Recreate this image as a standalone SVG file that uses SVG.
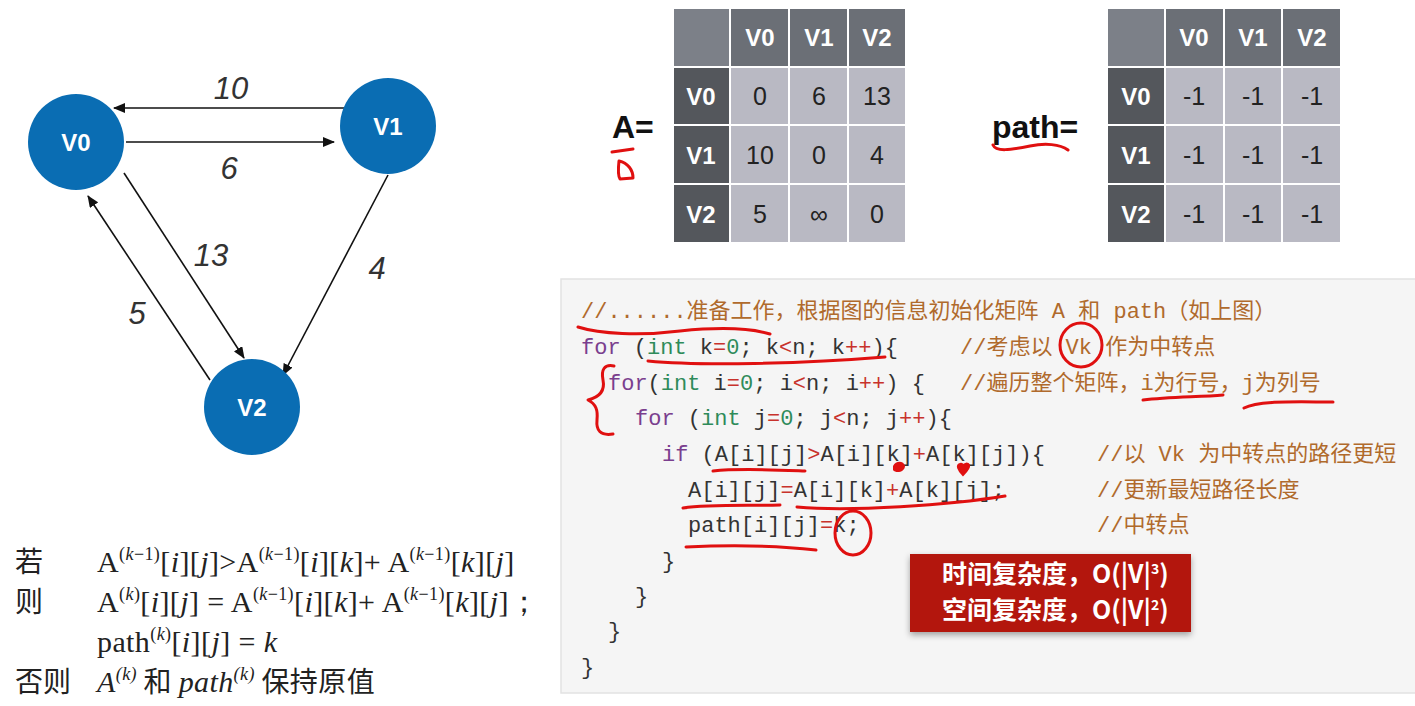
<svg xmlns="http://www.w3.org/2000/svg" width="1415" height="706" viewBox="0 0 1415 706">
<style>
.node{fill:#0a6db3}
.nl{font-family:"Liberation Sans",Arial,sans-serif;font-weight:bold;font-size:24px;fill:#fff;text-anchor:middle}
.el{font-family:"Liberation Sans",Arial,sans-serif;font-style:italic;font-size:31px;fill:#333;text-anchor:middle}
.edge{stroke:#111;stroke-width:1.6;fill:none;marker-end:url(#ah)}
.corner{fill:#7c8088;stroke:#fff;stroke-width:2}
.hd{fill:#6b6f76;stroke:#fff;stroke-width:2}
.rh{fill:#54575c;stroke:#fff;stroke-width:2}
.cell{fill:#b9b9c3;stroke:#fff;stroke-width:2}
.th{font-family:"Liberation Sans",Arial,sans-serif;font-weight:bold;font-size:24px;fill:#fff;text-anchor:middle}
.td{font-family:"Liberation Sans",Arial,sans-serif;font-size:25px;fill:#222;text-anchor:middle}
.lab{font-family:"Liberation Sans",Arial,sans-serif;font-weight:bold;font-size:32px;fill:#111}
.code{font-family:"Liberation Mono","Noto Sans CJK SC",monospace;font-size:22px;fill:#333;white-space:pre}
.kw{fill:#7a3e8e}
.ty{fill:#2e8b5a}
.op{fill:#c8322c}
.cm{fill:#b06a2c}
.red{stroke:#e01010;stroke-width:3;fill:none;stroke-linecap:round;stroke-linejoin:round}
.f{font-family:"Liberation Serif","Times New Roman",serif;font-size:30px;fill:#222;white-space:pre;letter-spacing:0.4px}
.sp{font-size:18px}
.i{font-style:italic}
.cj{font-family:"Noto Sans CJK SC",sans-serif;font-size:28px;fill:#222}
.cx{font-family:"Noto Sans CJK SC",sans-serif;font-weight:bold;font-size:25px;fill:#fff;white-space:pre}
</style>
<defs>
<marker id="ah" viewBox="0 0 12 10" refX="11" refY="5" markerWidth="12" markerHeight="10" markerUnits="userSpaceOnUse" orient="auto">
<path d="M0,0 L12,5 L0,10 Z" fill="#111"/>
</marker>
<filter id="sh" x="-10%" y="-10%" width="120%" height="130%">
<feDropShadow dx="0" dy="3" stdDeviation="3" flood-color="#000" flood-opacity="0.35"/>
</filter>
</defs>
<rect x="0" y="0" width="1415" height="706" fill="#fff"/>

<g id="connectors">
<line class="edge" x1="347" y1="108" x2="114" y2="108"/>
<line class="edge" x1="126" y1="142" x2="334" y2="142"/>
<line class="edge" x1="124" y1="173" x2="244" y2="358"/>
<line class="edge" x1="210" y1="380" x2="88" y2="196"/>
<line class="edge" x1="388" y1="175" x2="283" y2="375"/>
<text class="el" x="231" y="99">10</text>
<text class="el" x="229" y="179">6</text>
<text class="el" x="211" y="266">13</text>
<text class="el" x="377" y="279">4</text>
<text class="el" x="137" y="324">5</text>
</g>
<g id="V0"><circle class="node" cx="76" cy="142" r="48"/><text class="nl" x="76" y="151">V0</text></g>
<g id="V1"><circle class="node" cx="388" cy="126" r="48"/><text class="nl" x="388" y="135">V1</text></g>
<g id="V2"><circle class="node" cx="252" cy="407" r="48"/><text class="nl" x="252" y="416">V2</text></g>

<g id="matrixA">
<text class="lab" x="612" y="138">A=</text>
<rect class="corner" x="673" y="8" width="57" height="59"/>
<rect class="hd" x="730" y="8" width="59" height="59"/>
<rect class="hd" x="789" y="8" width="59" height="59"/>
<rect class="hd" x="848" y="8" width="58" height="59"/>
<rect class="rh" x="673" y="67" width="57" height="58"/>
<rect class="rh" x="673" y="125" width="57" height="59"/>
<rect class="rh" x="673" y="184" width="57" height="59"/>
<rect class="cell" x="730" y="67" width="59" height="58"/><rect class="cell" x="789" y="67" width="59" height="58"/><rect class="cell" x="848" y="67" width="58" height="58"/>
<rect class="cell" x="730" y="125" width="59" height="59"/><rect class="cell" x="789" y="125" width="59" height="59"/><rect class="cell" x="848" y="125" width="58" height="59"/>
<rect class="cell" x="730" y="184" width="59" height="59"/><rect class="cell" x="789" y="184" width="59" height="59"/><rect class="cell" x="848" y="184" width="58" height="59"/>
<text class="th" x="760" y="46">V0</text><text class="th" x="819" y="46">V1</text><text class="th" x="877" y="46">V2</text>
<text class="th" x="701" y="105">V0</text><text class="th" x="701" y="164">V1</text><text class="th" x="701" y="223">V2</text>
<text class="td" x="760" y="105">0</text><text class="td" x="819" y="105">6</text><text class="td" x="877" y="105">13</text>
<text class="td" x="760" y="164">10</text><text class="td" x="819" y="164">0</text><text class="td" x="877" y="164">4</text>
<text class="td" x="760" y="223">5</text><text class="td" x="819" y="223">∞</text><text class="td" x="877" y="223">0</text>
</g>

<g id="matrixPath">
<text class="lab" x="992" y="138">path=</text>
<rect class="corner" x="1107" y="8" width="58" height="59"/>
<rect class="hd" x="1165" y="8" width="59" height="59"/>
<rect class="hd" x="1224" y="8" width="58" height="59"/>
<rect class="hd" x="1282" y="8" width="59" height="59"/>
<rect class="rh" x="1107" y="67" width="58" height="58"/>
<rect class="rh" x="1107" y="125" width="58" height="59"/>
<rect class="rh" x="1107" y="184" width="58" height="59"/>
<rect class="cell" x="1165" y="67" width="59" height="58"/><rect class="cell" x="1224" y="67" width="58" height="58"/><rect class="cell" x="1282" y="67" width="59" height="58"/>
<rect class="cell" x="1165" y="125" width="59" height="59"/><rect class="cell" x="1224" y="125" width="58" height="59"/><rect class="cell" x="1282" y="125" width="59" height="59"/>
<rect class="cell" x="1165" y="184" width="59" height="59"/><rect class="cell" x="1224" y="184" width="58" height="59"/><rect class="cell" x="1282" y="184" width="59" height="59"/>
<text class="th" x="1194" y="46">V0</text><text class="th" x="1253" y="46">V1</text><text class="th" x="1312" y="46">V2</text>
<text class="th" x="1136" y="105">V0</text><text class="th" x="1136" y="164">V1</text><text class="th" x="1136" y="223">V2</text>
<text class="td" x="1194" y="105">-1</text><text class="td" x="1253" y="105">-1</text><text class="td" x="1312" y="105">-1</text>
<text class="td" x="1194" y="164">-1</text><text class="td" x="1253" y="164">-1</text><text class="td" x="1312" y="164">-1</text>
<text class="td" x="1194" y="223">-1</text><text class="td" x="1253" y="223">-1</text><text class="td" x="1312" y="223">-1</text>
</g>

<g id="codebox">
<rect x="561" y="279" width="860" height="414" fill="#f5f5f5" stroke="#e2e2e2" stroke-width="1.5"/>
<text class="code cm" x="581" y="318" xml:space="preserve">//......准备工作，根据图的信息初始化矩阵 A 和 path（如上图）</text>
<text class="code" x="581" y="354" xml:space="preserve"><tspan class="kw">for</tspan> (<tspan class="ty">int</tspan> k<tspan class="op">=</tspan><tspan class="ty">0</tspan>; k<tspan class="op">&lt;</tspan>n; k<tspan class="op">++</tspan>){</text>
<text class="code cm" x="960" y="354" xml:space="preserve">//考虑以 Vk 作为中转点</text>
<text class="code" x="608" y="390" xml:space="preserve"><tspan class="kw">for</tspan>(<tspan class="ty">int</tspan> i<tspan class="op">=</tspan><tspan class="ty">0</tspan>; i<tspan class="op">&lt;</tspan>n; i<tspan class="op">++</tspan>) {</text>
<text class="code cm" x="960" y="390" xml:space="preserve">//遍历整个矩阵，i为行号，j为列号</text>
<text class="code" x="635" y="425" xml:space="preserve"><tspan class="kw">for</tspan> (<tspan class="ty">int</tspan> j<tspan class="op">=</tspan><tspan class="ty">0</tspan>; j<tspan class="op">&lt;</tspan>n; j<tspan class="op">++</tspan>){</text>
<text class="code" x="662" y="461" xml:space="preserve"><tspan class="kw">if</tspan> (A[i][j]<tspan class="op">&gt;</tspan>A[i][k]<tspan class="op">+</tspan>A[k][j]){</text>
<text class="code cm" x="1097" y="461" xml:space="preserve">//以 Vk 为中转点的路径更短</text>
<text class="code" x="688" y="497" xml:space="preserve">A[i][j]<tspan class="op">=</tspan>A[i][k]<tspan class="op">+</tspan>A[k][j];</text>
<text class="code cm" x="1097" y="497" xml:space="preserve">//更新最短路径长度</text>
<text class="code" x="688" y="532" xml:space="preserve">path[i][j]<tspan class="op">=</tspan>k;</text>
<text class="code cm" x="1097" y="532" xml:space="preserve">//中转点</text>
<text class="code" x="662" y="568">}</text>
<text class="code" x="635" y="603">}</text>
<text class="code" x="608" y="638">}</text>
<text class="code" x="581" y="674">}</text>
</g>

<g id="complexity">
<rect x="910" y="554" width="281" height="78" fill="#b3180c" filter="url(#sh)"/>
<text class="cx" x="942" y="583">时间复杂度，O(|V|<tspan font-size="14" dy="-9">3</tspan><tspan dy="9">)</tspan></text>
<text class="cx" x="942" y="619">空间复杂度，O(|V|<tspan font-size="14" dy="-9">2</tspan><tspan dy="9">)</tspan></text>
</g>

<g id="formula">
<text class="cj" x="15" y="572">若</text>
<text class="cj" x="15" y="612">则</text>
<text class="cj" x="15" y="692">否则</text>
<text class="f" x="97" y="572">A<tspan class="sp" dy="-12">(<tspan class="i">k</tspan>−1)</tspan><tspan dy="12">[</tspan><tspan class="i">i</tspan>][<tspan class="i">j</tspan>]&gt;A<tspan class="sp" dy="-12">(<tspan class="i">k</tspan>−1)</tspan><tspan dy="12">[</tspan><tspan class="i">i</tspan>][<tspan class="i">k</tspan>]+ A<tspan class="sp" dy="-12">(<tspan class="i">k</tspan>−1)</tspan><tspan dy="12">[</tspan><tspan class="i">k</tspan>][<tspan class="i">j</tspan>]</text>
<text class="f" x="97" y="612">A<tspan class="sp" dy="-12">(<tspan class="i">k</tspan>)</tspan><tspan dy="12">[</tspan><tspan class="i">i</tspan>][<tspan class="i">j</tspan>] = A<tspan class="sp" dy="-12">(<tspan class="i">k</tspan>−1)</tspan><tspan dy="12">[</tspan><tspan class="i">i</tspan>][<tspan class="i">k</tspan>]+ A<tspan class="sp" dy="-12">(<tspan class="i">k</tspan>−1)</tspan><tspan dy="12">[</tspan><tspan class="i">k</tspan>][<tspan class="i">j</tspan>]；</text>
<text class="f" x="97" y="652">path<tspan class="sp" dy="-12">(<tspan class="i">k</tspan>)</tspan><tspan dy="12">[</tspan><tspan class="i">i</tspan>][<tspan class="i">j</tspan>] = <tspan class="i">k</tspan></text>
<text class="f" x="97" y="692"><tspan class="i">A</tspan><tspan class="sp i" dy="-12">(k)</tspan><tspan dy="12" font-family="Noto Sans CJK SC" font-size="28"> 和 </tspan><tspan class="i">path</tspan><tspan class="sp i" dy="-12">(k)</tspan><tspan dy="12" font-family="Noto Sans CJK SC" font-size="28"> 保持原值</tspan></text>
</g>

<g id="annotations">
<path class="red" d="M612,152 L633,149"/>
<path class="red" d="M619,161 C618,170 618,176 620,179 L633,178 C633,170 628,163 619,161 Z"/>
<path class="red" d="M993,145 C996,152 1010,150 1030,146 C1045,143 1060,144 1068,150"/>
<path class="red" d="M578,327 C600,334 640,336 680,331 C720,327 750,328 770,334"/>
<path class="red" d="M648,361 C700,366 800,364 885,357"/>
<ellipse class="red" cx="1081" cy="345" rx="21" ry="22"/>
<path class="red" d="M614,366 C604,364 601,370 603,380 C605,390 600,397 588,400 C596,404 598,410 597,420 C596,430 600,436 613,434"/>
<path class="red" d="M1143,400 C1170,397 1200,397 1223,395"/>
<path class="red" d="M1244,408 C1260,400 1300,402 1333,402"/>
<path class="red" d="M713,471 C740,468 780,470 805,471"/>
<path d="M893,466 C896,460 904,461 905,466 C905,472 896,474 893,470 Z" fill="#e01010"/>
<path d="M963,475 C958,470 956,465 960,464 C962,463 963,465 963,466 C964,463 968,463 969,465 C970,468 966,472 963,475 Z" fill="#e01010" stroke="#e01010" stroke-width="2"/>
<path class="red" d="M683,508 C710,504 750,506 780,505"/>
<path class="red" d="M797,507 C850,512 950,505 1005,496"/>
<path class="red" d="M686,547 C730,545 780,546 816,550"/>
<ellipse class="red" cx="853" cy="533" rx="18" ry="22"/>
</g>
</svg>
